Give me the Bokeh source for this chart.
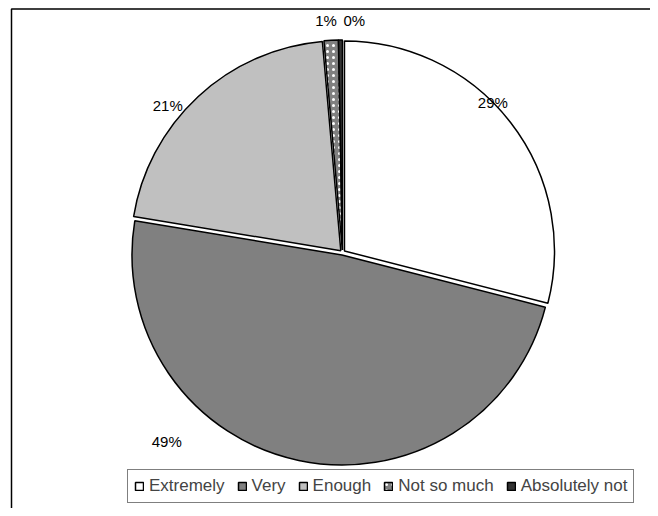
import math
from bokeh.plotting import figure
from bokeh.models import Range1d, Legend, LegendItem
from bokeh.core.properties import value
from bokeh.embed import file_html
from bokeh.resources import INLINE

# ---- data ----
categories = ["Extremely", "Very", "Enough", "Not so much", "Absolutely not"]
shares = [29.0, 48.6, 21.0, 1.1, 0.3]   # percent

# ---- styles / layout ----
colors = ["#FFFFFF", "#808080", "#C0C0C0", "#808080", "#333333"]
hatches = [None, None, None, "dot", None]
label_nudge = [(-33, 8), (-128, 38), (-17, -23), (-4, 0), (14, 0)]  # px, y up

W, H = 650, 508
CX, CY = 342, 256
R = 210
EXPLODE = 2.5
LABEL_GAP = 22
FONT = "Liberation Sans"

p = figure(width=W, height=H, output_backend="svg", toolbar_location=None,
           x_range=Range1d(0, W), y_range=Range1d(0, H), min_border=0,
           x_axis_type=None, y_axis_type=None, outline_line_color=None)
p.background_fill_color = "white"
p.border_fill_color = "white"

total = sum(shares)
cum = 0.0
items = []
lx, ly, lt = [], [], []
for i, (cat, s) in enumerate(zip(categories, shares)):
    c0 = cum / total
    cum += s
    c1 = cum / total
    mid = 2 * math.pi * (c0 + c1) / 2
    th = math.pi / 2 - mid
    x = CX + EXPLODE * math.cos(th)
    y = CY + EXPLODE * math.sin(th)
    kw = dict(fill_color=colors[i], line_color="black", line_width=1.5)
    if hatches[i]:
        kw.update(hatch_pattern=hatches[i], hatch_color="white", hatch_scale=6, hatch_weight=1.2)
    r = p.wedge(x=[x], y=[y], radius=R,
                start_angle=math.pi / 2 - 2 * math.pi * c1,
                end_angle=math.pi / 2 - 2 * math.pi * c0,
                direction="anticlock", **kw)
    items.append(LegendItem(label=cat, renderers=[r]))
    rl = R + LABEL_GAP
    lx.append(CX + rl * math.cos(th) + label_nudge[i][0])
    ly.append(CY + rl * math.sin(th) + label_nudge[i][1])
    lt.append(f"{round(s)}%")

p.text(x=lx, y=ly, text=lt, text_align="center", text_baseline="middle",
       text_font=value(FONT), text_font_size="15px", text_color="black")

# chart frame (left and top edges visible)
p.line(x=[11, 11, 800], y=[-100, 499.5, 499.5], line_color="black", line_width=1.5)

legend = Legend(items=items, orientation="horizontal", location=(127, 5))
legend.border_line_color = "black"
legend.border_line_width = 1
legend.background_fill_color = "white"
legend.background_fill_alpha = 1
legend.padding = 6
legend.spacing = 12
legend.label_standoff = 5
legend.glyph_width = 10
legend.glyph_height = 10
legend.margin = 0
legend.label_text_font = FONT
legend.label_text_font_size = "17px"
p.add_layout(legend)

open("out.html", "w").write(file_html(p, INLINE))
